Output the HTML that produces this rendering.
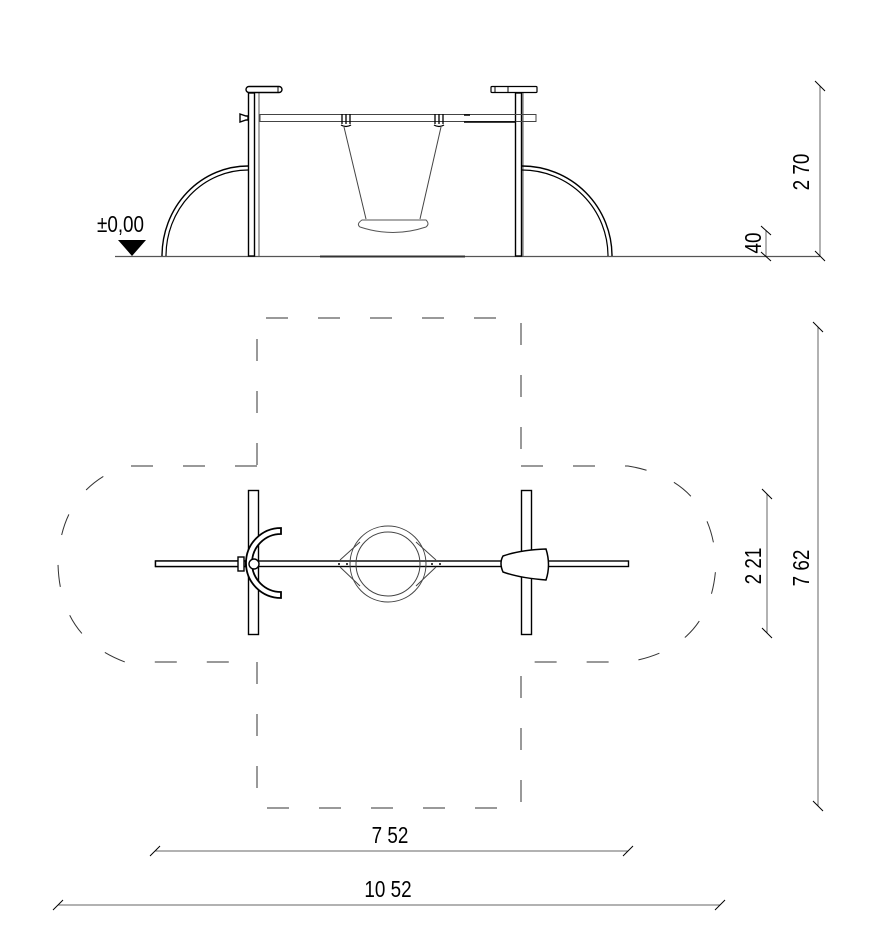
<!DOCTYPE html>
<html><head><meta charset="utf-8"><style>
html,body{margin:0;padding:0;background:#fff;}
svg{display:block;font-family:"Liberation Sans",Arial,sans-serif;}
</style></head><body>
<svg width="882" height="951" viewBox="0 0 882 951">
<g fill="none" stroke="#000">
<!-- Elevation -->
<line x1="115" y1="256.5" x2="820" y2="256.5" stroke="#555" stroke-width="1.2"/>
<line x1="320" y1="256.5" x2="465" y2="256.5" stroke="#333" stroke-width="2"/>
<rect x="248.5" y="93" width="6" height="163" stroke-width="1.4"/>
<line x1="259" y1="93" x2="259" y2="256" stroke="#555"/>
<rect x="515.5" y="93" width="6" height="163" stroke-width="1.4"/>
<line x1="523" y1="93" x2="523" y2="256" stroke="#555"/>
<rect x="246" y="86.5" width="36" height="6" rx="3" stroke-width="1.4"/>
<line x1="278" y1="87" x2="278" y2="92"/>
<rect x="491" y="86.5" width="46" height="6" rx="1" stroke-width="1.2"/>
<line x1="495" y1="87" x2="495" y2="92"/><line x1="508" y1="87" x2="508" y2="92"/>
<rect x="260" y="114.5" width="276" height="7" stroke="#444"/>
<path d="M240 114 L246 116 L248 116 L248 120 L246 120 L240 122 Z" stroke-width="1.4"/>
<line x1="464" y1="115" x2="470" y2="115" stroke-width="1.5"/>
<line x1="464" y1="122" x2="516" y2="122" stroke-width="1.5"/>
<path d="M342 114 v10 M346 114 v10 M350 114 v10 M341 125 Q346 128 351 125" stroke-width="1.3"/>
<path d="M435 114 v10 M439 114 v10 M443 114 v10 M434 125 Q439 128 444 125" stroke-width="1.3"/>
<line x1="344" y1="127" x2="366" y2="219" stroke="#444"/>
<line x1="441" y1="127" x2="420" y2="219" stroke="#444"/>
<path d="M362 220 L426 220 Q430 224 426 227 Q393 238 360 227 Q356 224 362 220 Z" stroke="#555"/>
<path d="M248 166 A86 90 0 0 0 162 256" stroke-width="1.4"/>
<path d="M248 170 A82 86 0 0 0 166 256" stroke-width="1.2"/>
<path d="M522 166 A90 90 0 0 1 612 256" stroke-width="1.4"/>
<path d="M522 170 A86 86 0 0 1 608 256" stroke-width="1.2"/>
<line x1="820" y1="86" x2="820" y2="256" stroke="#666"/>
<line x1="815" y1="81" x2="825" y2="91"/><line x1="815" y1="251" x2="825" y2="261"/>
<line x1="766" y1="230" x2="766" y2="256" stroke="#666"/>
<line x1="761" y1="226" x2="771" y2="235"/><line x1="761" y1="252" x2="771" y2="261"/>
<g stroke="#333" stroke-dasharray="22 30">
<path d="M257 465 V318 H521 V465"/>
<path d="M257 662 V808 H521 V662"/>
<path d="M257 466 H125 Q60 490 58 564 Q60 638 125 662 H257"/>
<path d="M521 466 H628 Q712 480 716 564 Q712 648 628 662 H521"/>
</g>
<rect x="155.5" y="561" width="473" height="5.5" stroke-width="1.4" fill="#fff"/>
<circle cx="388" cy="564" r="38" stroke="#444"/>
<circle cx="388" cy="564" r="32" stroke="#444"/>
<path d="M340 560 L360 542 M340 567 L360 586 M436 560 L416 542 M436 567 L416 586" stroke="#444"/>
<rect x="248.5" y="490.5" width="10" height="144" stroke-width="1.4" fill="#fff"/>
<rect x="521.5" y="490.5" width="10" height="144" stroke-width="1.4" fill="#fff"/>
<rect x="155.5" y="561" width="90" height="5.5" stroke-width="1.4" fill="#fff"/>
<rect x="238" y="557" width="6" height="14" stroke-width="1.4" fill="#fff"/>
<path d="M281 528 A35 35 0 0 0 281 598 L281 592 A29 29 0 0 1 281 534 Z" stroke-width="1.8" fill="#fff"/>
<circle cx="254" cy="564" r="5" stroke-width="1.4" fill="#fff"/>
<path d="M503 556 Q499 563 503 572 Q520 578 546 580 Q551 565 546 549 Q520 550 503 556 Z" stroke-width="1.5" fill="#fff"/>
<g fill="#000" stroke="none"><circle cx="339" cy="564" r="1"/><circle cx="347" cy="564" r="1"/><circle cx="432" cy="564" r="1"/><circle cx="440" cy="564" r="1"/></g>
<line x1="818" y1="327" x2="818" y2="806" stroke="#666"/>
<line x1="813" y1="322" x2="823" y2="332"/><line x1="813" y1="801" x2="823" y2="811"/>
<line x1="767" y1="494" x2="767" y2="633" stroke="#666"/>
<line x1="762" y1="489" x2="772" y2="499"/><line x1="762" y1="628" x2="772" y2="638"/>
<line x1="155" y1="851" x2="628" y2="851" stroke="#666"/>
<line x1="150" y1="856" x2="160" y2="846"/><line x1="623" y1="856" x2="633" y2="846"/>
<line x1="58" y1="905" x2="720" y2="905" stroke="#666"/>
<line x1="53" y1="910" x2="63" y2="900"/><line x1="715" y1="910" x2="725" y2="900"/>
</g>
<path d="M118 240 L146 240 L132 256 Z" fill="#000"/>
<g font-size="23" fill="#000">
<text transform="translate(97 232) scale(0.82 1)">±0,00</text>
<text transform="translate(390 843) scale(0.82 1)" text-anchor="middle">7 52</text>
<text transform="translate(388 897) scale(0.82 1)" text-anchor="middle">10 52</text>
<text transform="translate(809 172) rotate(-90) scale(0.82 1)" text-anchor="middle">2 70</text>
<text transform="translate(761 243) rotate(-90) scale(0.82 1)" text-anchor="middle">40</text>
<text transform="translate(809 568) rotate(-90) scale(0.82 1)" text-anchor="middle">7 62</text>
<text transform="translate(761 566) rotate(-90) scale(0.82 1)" text-anchor="middle">2 21</text>
</g>
</svg>
</body></html>
